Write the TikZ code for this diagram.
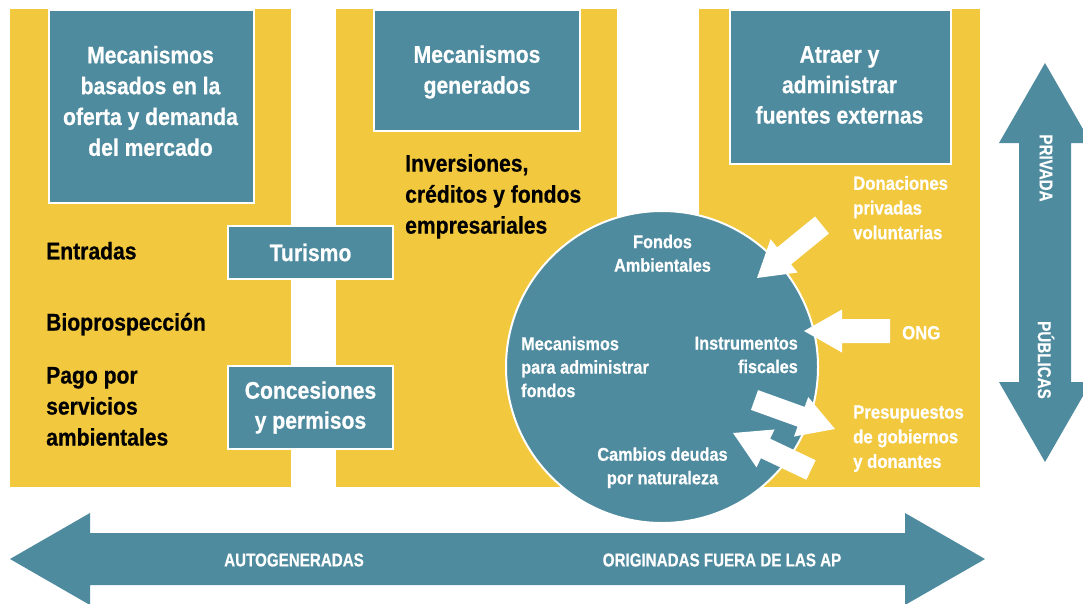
\documentclass[tikz,border=0pt]{standalone}
\usepackage{fontspec}
\setmainfont{Liberation Sans}[FakeStretch=0.88,FakeBold=0.6]
\newfontfamily\capsfont{Liberation Sans}[FakeStretch=0.82,FakeBold=0.5]
\definecolor{apteal}{RGB}{79,139,158}
\definecolor{apyellow}{RGB}{242,200,62}
\newcommand\barrow[7]{%
  \pgfmathsetmacro\bdx{#3-#1}\pgfmathsetmacro\bdy{#4-#2}%
  \pgfmathsetmacro\bang{atan2(-\bdy,\bdx)}%
  \pgfmathsetmacro\blen{veclen(\bdx,\bdy)}%
  \pgfmathsetmacro\bneck{\blen-#6}%
  \fill[white,shift={(#1,#2)},rotate=\bang] (0,-#5) -- (\bneck,-#5) -- (\bneck,-#7) -- (\blen,0) -- (\bneck,#7) -- (\bneck,#5) -- (0,#5) -- cycle;}
\begin{document}
\begin{tikzpicture}[x=1pt,y=-1pt,
  col/.style={fill=apyellow,inner sep=0,outer sep=0,anchor=north west},
  hbox/.style={fill=apteal,draw=white,line width=2pt,inner sep=0,anchor=north west},
  sbox/.style={fill=apteal,draw=white,line width=2pt,inner sep=0,text=white,align=center,font=\bfseries\fontsize{24}{30}\selectfont},
  htext/.style={text=white,inner sep=0,align=center,font=\bfseries\fontsize{24}{30.8}\selectfont},
  btext/.style={text=black,inner sep=0,align=left,font=\bfseries\fontsize{24}{31}\selectfont},
  ctext/.style={text=white,inner sep=0,font=\bfseries\fontsize{18.5}{23.5}\selectfont},
  rtext/.style={text=white,inner sep=0,align=left,font=\bfseries\fontsize{19}{24.7}\selectfont},
  atext/.style={text=white,inner sep=0,font=\capsfont\bfseries\fontsize{18.5}{22}\selectfont}]
\useasboundingbox (0,0) rectangle (1083,603);
\clip (0,0) rectangle (1083,603);
% columns
\node[col,minimum width=281,minimum height=478] (c1) at (10,9) {};
\node[col,minimum width=281,minimum height=478] (c2) at (336,9) {};
\node[col,minimum width=281,minimum height=478] (c3) at (699,9) {};
% header boxes
\node[hbox,minimum width=205,minimum height=193] (h1) at (48,9) {};
\node[hbox,minimum width=206,minimum height=121] (h2) at (373,9) {};
\node[hbox,minimum width=221,minimum height=154] (h3) at (729,9) {};
\node[htext] (h1t) at (150.5,101) {Mecanismos\\basados en la\\oferta y demanda\\del mercado};
\node[htext] (h2t) at (477,72) {Mecanismos\\generados};
\node[htext,font=\bfseries\fontsize{24}{30.4}\selectfont] (h3t) at (839.5,85) {Atraer y\\administrar\\fuentes externas};
% column texts
\node[btext,anchor=west] (inv) at (405,196.4) {Inversiones,\\créditos y fondos\\empresariales};
\node[btext,anchor=base west] (ent) at (46,259.3) {Entradas};
\node[btext,anchor=base west] (bio) at (46,330.5) {Bioprospección};
\node[btext,anchor=west] (pago) at (46,406.4) {Pago por\\servicios\\ambientales};
% middle boxes
\node[sbox,minimum width=165,minimum height=53] (tur) at (310.5,252.5) {Turismo};
\node[sbox,minimum width=165,minimum height=83] (con) at (310.5,407.5) {Concesiones\\y permisos};
% circle
\node[circle,minimum size=312,fill=apteal,draw=white,line width=2pt,inner sep=0] (circ) at (662,367) {};
\node[ctext,align=center] (fa) at (662.5,253.3) {Fondos\\Ambientales};
\node[ctext,align=left,anchor=west] (mpa) at (521,367) {Mecanismos\\para administrar\\fondos};
\node[ctext,align=right,anchor=east] (inf) at (798,355) {Instrumentos\\fiscales};
\node[ctext,align=center] (cdn) at (662.5,467.7) {Cambios deudas\\por naturaleza};
% right texts
\node[rtext,anchor=west] (don) at (853,207.7) {Donaciones\\privadas\\voluntarias};
\node[rtext,anchor=base west] (ong) at (902,339.3) {ONG};
\node[rtext,anchor=west] (pre) at (853,438.7) {Presupuestos\\de gobiernos\\y donantes};
% white block arrows
\barrow{822}{225}{757}{278}{11}{35}{21.5}
\barrow{890}{331}{804}{331}{12}{38}{21.5}
\barrow{754.5}{400}{835}{429}{10.5}{36}{21}
\barrow{811}{470}{733}{433}{10.8}{36}{21}
% bottom double arrow
\fill[apteal] (10,559) -- (90,513) -- (90,533) -- (905,533) -- (905,513) -- (985,559) -- (905,605) -- (905,585) -- (90,585) -- (90,605) -- cycle;
\node[atext] (auto) at (294,560) {AUTOGENERADAS};
\node[atext] (orig) at (722,560) {ORIGINADAS FUERA DE LAS AP};
% vertical double arrow
\fill[apteal] (1045,63) -- (1091,143) -- (1071,143) -- (1071,382) -- (1091,382) -- (1045,462) -- (999,382) -- (1019,382) -- (1019,143) -- (999,143) -- cycle;
\node[atext,rotate=-90] (priv) at (1046,168) {PRIVADA};
\node[atext,rotate=-90] (pub) at (1046,360) {PÚBLICAS};
\end{tikzpicture}
\end{document}
